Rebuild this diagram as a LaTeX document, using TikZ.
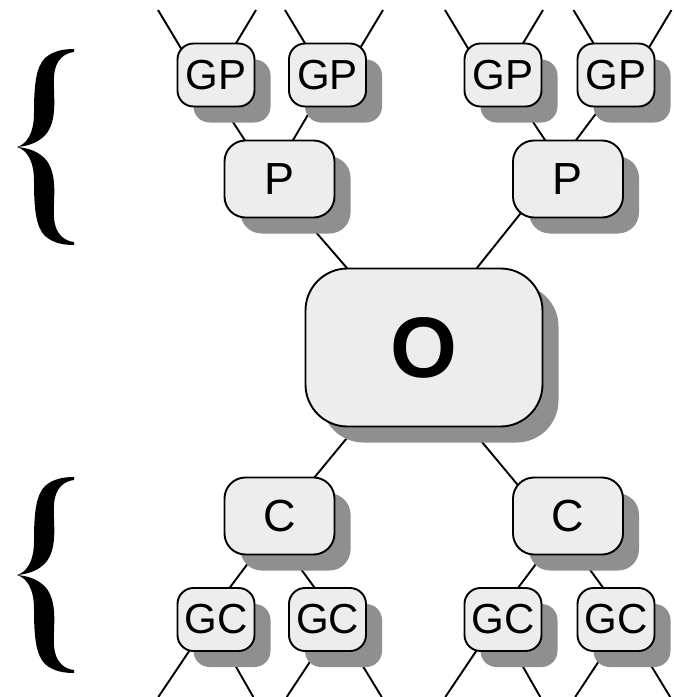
\documentclass[tikz,border=0pt]{standalone}
\usepackage{fontspec}
\setmainfont{Liberation Sans}
\usetikzlibrary{calc,shadows}
\definecolor{boxfill}{RGB}{237,237,237}
\definecolor{shadegray}{RGB}{143,143,143}
\pgfdeclarelayer{links}
\pgfsetlayers{links,main}
\begin{document}
\begin{tikzpicture}[x=1pt,y=-1pt,
  box/.style={draw=black, line width=1.9pt, fill=boxfill, inner sep=0pt,
    drop shadow={shadow xshift=16pt, shadow yshift=-16pt, opacity=1, fill=shadegray, draw=none}},
  small/.style={box, minimum width=77pt, minimum height=63pt, rounded corners=16pt,
    font=\fontsize{42}{42}\selectfont},
  mid/.style={box, minimum width=110pt, minimum height=77pt, rounded corners=21pt,
    font=\fontsize{45}{45}\selectfont},
  big/.style={box, minimum width=237pt, minimum height=158pt, rounded corners=42pt,
    font=\fontsize{86}{86}\selectfont\bfseries},
  link/.style={line width=1.9pt, draw=black},
  bracehalf/.pic={
    \fill (0,0) .. controls (10,-3) and (17,-14) .. (17,-34)
      .. controls (17,-62) and (19,-80) .. (28,-89)
      .. controls (36,-96) and (46,-98) .. (57,-98) -- (57,-95)
      .. controls (48,-94) and (38,-88) .. (37,-70)
      .. controls (36,-52) and (41,-30) .. (30,-14)
      .. controls (23,-5) and (12,-1) .. (0,0) -- cycle;
  },
  curly/.pic={
    \pic {bracehalf};
    \pic[yscale=-1] {bracehalf};
  }
]
\useasboundingbox (0,0) rectangle (673,697);

% grandparents
\node[small] (GP1) at (216,75)   {GP};
\node[small] (GP2) at (327.5,75) {GP};
\node[small] (GP3) at (503,75)   {GP};
\node[small] (GP4) at (616,75)   {GP};
% parents
\node[mid] (P1) at (279.5,179) {P};
\node[mid] (P2) at (568,179)   {P};
% the object itself
\node[big] (O) at (424,347.5) {O};
% children
\node[mid] (C1) at (279.5,516) {C};
\node[mid] (C2) at (568,516)   {C};
% grandchildren
\node[small] (GC1) at (216,619.5)   {GC};
\node[small] (GC2) at (327.5,619.5) {GC};
\node[small] (GC3) at (503,619.5)   {GC};
\node[small] (GC4) at (616,619.5)   {GC};

% braces grouping the ancestor and descendant levels
\pic at (17,147) {curly};
\pic at (17,575) {curly};

\begin{pgfonlayer}{links}
  % open edges above the grandparents
  \foreach \g in {GP1,GP3} {
    \draw[link] ($(\g)+(-19,0)$) -- ++(-39,-65);
    \draw[link] ($(\g)+(1,0)$) -- ++(39,-65);
  }
  \foreach \g in {GP2,GP4} {
    \draw[link] ($(\g)+(-3.5,0)$) -- ++(-39,-65);
    \draw[link] ($(\g)+(16.5,0)$) -- ++(39,-65);
  }
  % open edges below the grandchildren
  \foreach \g in {GC1,GC3} {
    \draw[link] ($(\g)+(-5.6,0)$) -- ++(-52.1,77.5);
    \draw[link] ($(\g)+(-7,0)$) -- ++(44.3,77.5);
  }
  \foreach \g in {GC2,GC4} {
    \draw[link] ($(\g)+(10.4,0)$) -- ++(-51.2,77.5);
    \draw[link] ($(\g)+(7,0)$) -- ++(47.2,77.5);
  }
  % tree edges
  \draw[link] ($(GP1)+(-13.6,0)$) -- ($(P1)+(-9.5,0)$);
  \draw[link] ($(GP2)+(4,0)$) -- ($(P1)+(-9.5,0)$);
  \draw[link] ($(GP3)+(-1.3,0)$) -- ($(P2)+(3,0)$);
  \draw[link] ($(GP4)+(9,0)$) -- ($(P2)+(-21.2,0)$);
  \draw[link] ($(P1)+(-9.5,0)$) -- ($(O)+(-8.4,0)$);
  \draw[link] ($(P2)+(-8.7,-14)$) -- ($(O)+(-10.7,0)$);
  \draw[link] ($(O)+(-2.4,0)$) -- ($(C1)+(3.1,0)$);
  \draw[link] ($(O)+(-20.7,0)$) -- ($(C2)+(-24.4,0)$);
  \draw[link] ($(C1)+(4,0)$) -- ($(GC1)+(-10.2,0)$);
  \draw[link] ($(C1)+(-17.3,0)$) -- ($(GC2)+(10.3,0)$);
  \draw[link] ($(C2)+(4,0)$) -- ($(GC3)+(-8.7,0)$);
  \draw[link] ($(C2)+(-17.3,0)$) -- ($(GC4)+(10.3,0)$);
\end{pgfonlayer}
\end{tikzpicture}
\end{document}
